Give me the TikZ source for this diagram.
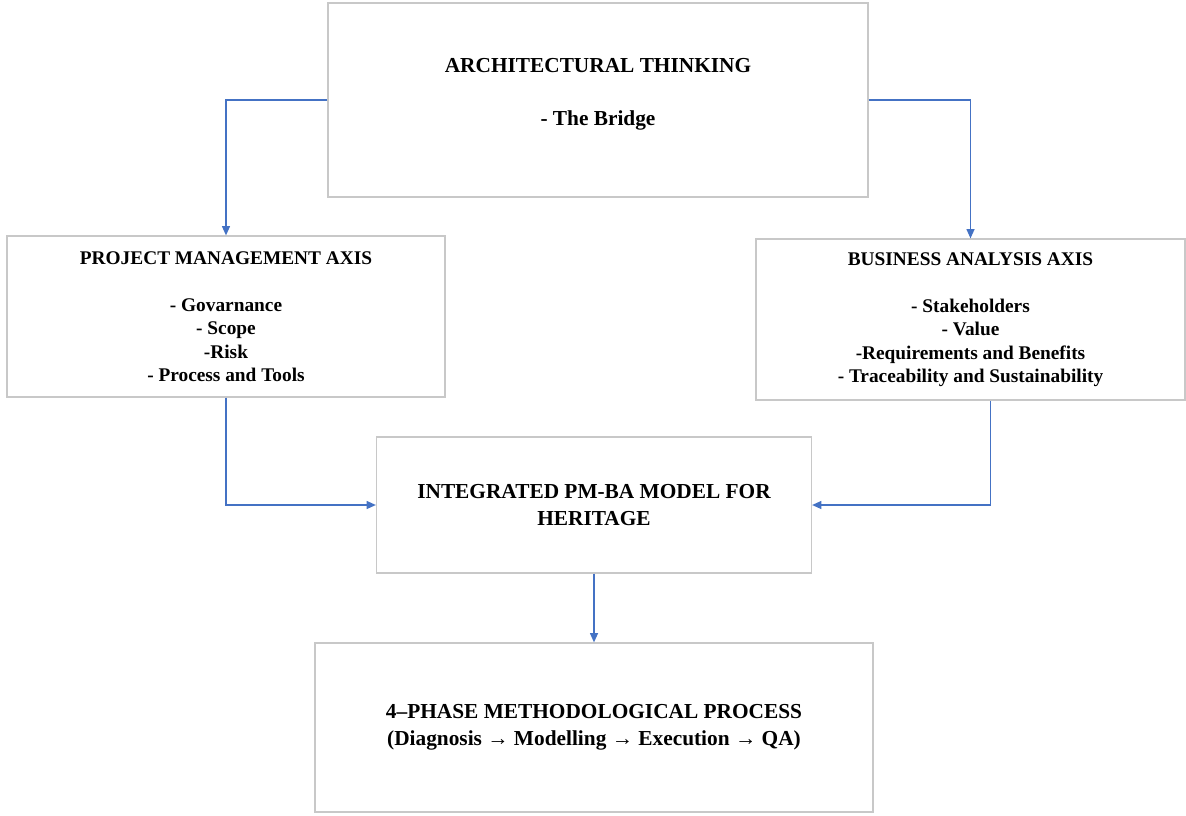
\documentclass[tikz,border=0pt]{standalone}
\usepackage{fontspec}
\setmainfont{Liberation Serif}
\usepackage{tikz}
\usetikzlibrary{arrows.meta}

\definecolor{boxgray}{RGB}{200,200,200}
\definecolor{linkblue}{RGB}{68,114,196}

\begin{document}
\begin{tikzpicture}[x=0.75pt,y=0.75pt,yscale=-1,xscale=1,
    box/.style={draw=boxgray, line width=0.9pt, inner sep=0pt, align=center, font=\bfseries},
    bigtext/.style={font=\bfseries\fontsize{16}{20}\selectfont},
    axistext/.style={font=\bfseries\fontsize{14.5}{17.6}\selectfont},
    link/.style={draw=linkblue, line width=1pt, -{Triangle[length=7pt,width=6pt]}}]
    %set diagram to 1186 x 815
    \useasboundingbox (0,0) rectangle (1186,815);

    %Shape: Rectangle [id:arch]
    \node [box, minimum width=405pt, minimum height=145.5pt] (arch) at (598,100) {};
    % Text Node
    \node [align=center, inner sep=0.75pt, bigtext] (archtext) at (598,94) {ARCHITECTURAL THINKING\\[20pt] - The Bridge};

    %Shape: Rectangle [id:pm]
    \node [box, axistext, minimum width=328.5pt, minimum height=120.75pt] (pm) at (226,316.5)
        {PROJECT MANAGEMENT AXIS\\[17.6pt] - Govarnance\\ - Scope\\ -Risk\\ - Process and Tools};

    %Shape: Rectangle [id:ba]
    \node [box, axistext, minimum width=321.75pt, minimum height=120.75pt] (ba) at (970.5,319.5)
        {BUSINESS ANALYSIS AXIS\\[17.6pt] - Stakeholders\\ - Value\\ -Requirements and Benefits\\ - Traceability and Sustainability};

    %Shape: Rectangle [id:integ]
    \node [box, bigtext, minimum width=326.25pt, minimum height=102pt] (integ) at (594,505)
        {INTEGRATED PM-BA MODEL FOR\\ HERITAGE};

    %Shape: Rectangle [id:phase]
    \node [box, bigtext, minimum width=418.5pt, minimum height=126.75pt] (phase) at (594,727.5)
        {4–PHASE METHODOLOGICAL PROCESS\\ (Diagnosis → Modelling → Execution → QA)};

    %Connectors
    \draw [link] (arch.west) -| (pm.north);
    \draw [link] (arch.east) -| (ba.north);
    \draw [link] (pm.south) |- (integ.west);
    \draw [link] ([xshift=15pt]ba.south) |- (integ.east);
    \draw [link] (integ.south) -- (phase.north);
\end{tikzpicture}
\end{document}
